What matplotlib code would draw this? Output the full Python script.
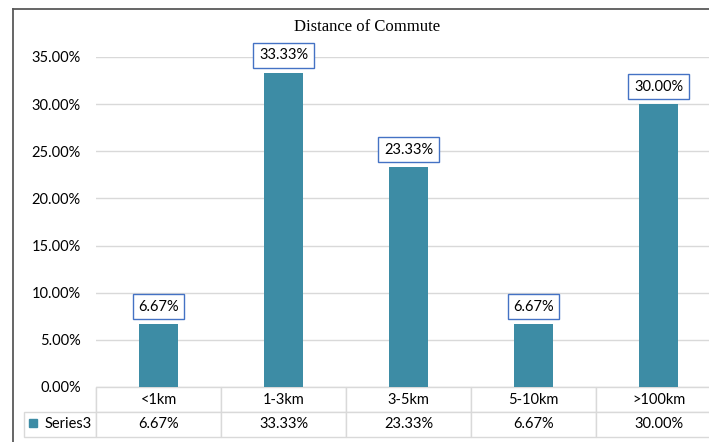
import matplotlib.pyplot as plt
from matplotlib.lines import Line2D
from matplotlib.patches import Rectangle

categories = ['<1km', '1-3km', '3-5km', '5-10km', '>100km']
values = [6.67, 33.33, 23.33, 6.67, 30.00]
series_name = 'Series3'
yticks = [0, 5, 10, 15, 20, 25, 30, 35]

BAR = '#3D8CA5'
GRID = '#D9D9D9'
BOXEDGE = '#4472C4'
W, H = 709, 442

fig = plt.figure(figsize=(W / 100, H / 100), dpi=100)
ax = fig.add_axes([96 / W, (H - 387) / H, 625 / W, 330 / H])

x = list(range(len(categories)))
ax.bar(x, values, width=0.31, color=BAR, zorder=3)
ax.set_xlim(-0.5, len(categories) - 0.5)
ax.set_ylim(0, 35)
ax.set_yticks(yticks)
ax.set_yticklabels([f'{t:.2f}%' for t in yticks], fontfamily='Lato', fontsize=10.5)
ax.set_xticks([])
ax.tick_params(axis='y', length=0, pad=11)
ax.grid(axis='y', color=GRID, lw=1, zorder=0)
for s in ax.spines.values():
    s.set_visible(False)

for xi, v in zip(x, values):
    ax.annotate(f'{v:.2f}%', (xi, v), xytext=(0, 7.5), textcoords='offset points',
                ha='center', va='bottom', fontfamily='Lato', fontsize=10.5,
                bbox=dict(boxstyle='square,pad=0.38', fc='white', ec=BOXEDGE, lw=1))

fig.text(367 / W, 1 - 27 / H, 'Distance of Commute', ha='center', va='center',
         fontfamily='Liberation Serif', fontsize=12)

# data table under the plot
cell_text = [[''] + categories, [series_name] + [f'{v:.2f}%' for v in values]]
x0 = (24 - 96) / 625
tw = (721 - 24) / 625
tbl = ax.table(cellText=cell_text, cellLoc='center',
               colWidths=[72] + [125] * len(categories),
               bbox=[x0, -50 / 330, tw, 50 / 330])
tbl.auto_set_font_size(False)
for (r, c), cell in tbl.get_celld().items():
    cell.set_edgecolor(GRID)
    cell.set_linewidth(1)
    cell.get_text().set_fontfamily('Lato')
    cell.get_text().set_fontsize(10.5)
    if r == 0 and c == 0:
        cell.visible_edges = 'R'
    if r == 1 and c == 0:
        cell.get_text().set_ha('right')
        cell._loc = 'right'
        cell.PAD = 0.06
ax.add_patch(Rectangle(((29 - 96) / 625, -(427 - 387) / 330), 8 / 625, 8 / 330,
                       transform=ax.transAxes, color=BAR, clip_on=False))

# outer chart border (cropped at right and bottom)
fig.add_artist(Line2D([13 / W, 13 / W], [0, 1 - 9 / H], color='#595959', lw=1.3))
fig.add_artist(Line2D([13 / W, 1], [1 - 9 / H, 1 - 9 / H], color='#595959', lw=1.3))

fig.savefig('out.png', dpi=100)
